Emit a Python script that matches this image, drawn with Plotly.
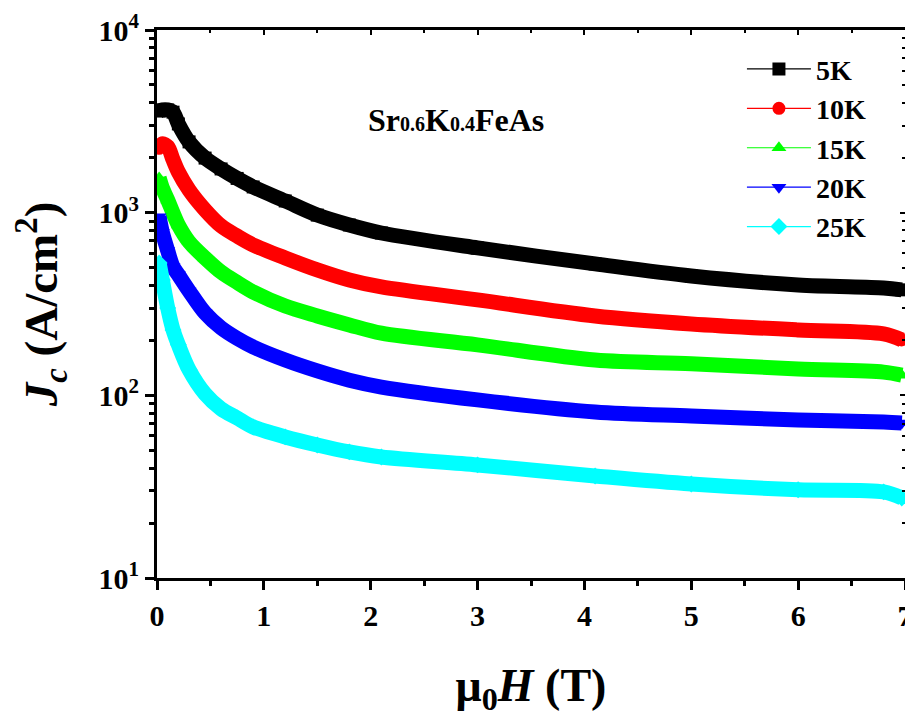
import plotly.graph_objects as go

# ---- data (mu0H in tesla, Jc in A/cm^2) ----
field = [0.02, 0.05, 0.1, 0.15, 0.2, 0.3, 0.45, 0.6, 0.75, 0.9, 1.2, 1.5, 1.8, 2.1, 3.0, 4.1, 5.0, 6.0, 6.8, 6.97]

jc_5K = [3600, 3650, 3650, 3550, 3060, 2440, 1990, 1735, 1540, 1383, 1159, 970, 856, 774, 641, 524, 450, 402, 387, 378]
jc_10K = [2250, 2380, 2300, 1950, 1670, 1331, 1035, 846, 745, 666, 565, 486, 428, 392, 333, 272, 246, 228, 217, 201]
jc_15K = [1550, 1365, 1174, 996, 856, 692, 565, 473, 415, 368, 308, 272, 243, 219, 189, 156, 149, 139.5, 134, 129]
jc_20K = [950, 780, 620, 505, 457, 373, 282, 234, 205, 184, 156, 136, 121, 111, 94.4, 81.1, 77.1, 73.3, 71.5, 70.6]
jc_25K = [530, 428, 301, 228, 189, 138, 101.8, 84.3, 75.2, 67.1, 59.2, 53.5, 49, 46, 41.6, 36.2, 32.7, 30.4, 29.6, 27.4]

series_names = ["5K", "10K", "15K", "20K", "25K"]
series_values = [jc_5K, jc_10K, jc_15K, jc_20K, jc_25K]
series_colors = ["#000000", "#ff0000", "#00ff00", "#0000ff", "#00ffff"]
series_symbols = ["square", "circle", "triangle-up", "triangle-down", "diamond"]

x_ticks = [0, 1, 2, 3, 4, 5, 6, 7]
y_ticks = [10, 100, 1000, 10000]
y_ticktext = ["10<sup>1</sup>", "10<sup>2</sup>", "10<sup>3</sup>", "10<sup>4</sup>"]
y_minor = [m * 10 ** k for k in range(1, 4) for m in range(2, 10)]
x_minor = [v + 0.5 for v in range(7)]

FONT = "Liberation Serif"

fig = go.Figure()

# thick data bands
for name, vals, col, sym in zip(series_names, series_values, series_colors, series_symbols):
    fig.add_trace(go.Scatter(
        x=field, y=vals, mode="lines+markers", name=name, showlegend=False,
        line=dict(color=col, width=15, shape="spline", smoothing=0.9),
        marker=dict(color=col, symbol=sym, size=13),
    ))

# legend entries
for name, col, sym in zip(series_names, series_colors, series_symbols):
    fig.add_trace(go.Scatter(
        x=[None], y=[None], mode="lines+markers", name=name,
        line=dict(color=col, width=1.2),
        marker=dict(color=col, symbol=sym, size=13),
    ))

# dummy trace for mirrored (inside-tick) axes
fig.add_trace(go.Scatter(x=[None], y=[None], xaxis="x2", yaxis="y2",
                         showlegend=False, hoverinfo="skip"))

axis_common = dict(showgrid=False, zeroline=False, linecolor="black", linewidth=3,
                   tickcolor="black", tickwidth=2.5, automargin=False)

fig.update_layout(
    width=905, height=717,
    paper_bgcolor="white", plot_bgcolor="white",
    margin=dict(l=149, r=8, t=22, b=147),
    font=dict(family=FONT, color="black", size=30, weight="bold"),
    xaxis=dict(
        **axis_common, range=[0, 7], tickmode="array", tickvals=x_ticks,
        ticks="outside", ticklen=9, mirror=True,
        minor=dict(tickmode="array", tickvals=x_minor, ticks="outside", ticklen=5,
                   tickcolor="black", tickwidth=2.5),
        tickfont=dict(size=30, family=FONT, weight="bold"),
        title=dict(text="μ<sub>0</sub><i>H</i> (T)", standoff=38,
                   font=dict(size=46, family=FONT, weight="bold")),
    ),
    yaxis=dict(
        **axis_common, type="log", range=[1, 4], tickmode="array",
        tickvals=y_ticks, ticktext=y_ticktext, ticks="outside", ticklen=9, mirror=True,
        minor=dict(tickmode="array", tickvals=y_minor, ticks="outside", ticklen=5,
                   tickcolor="black", tickwidth=2.5),
        tickfont=dict(size=30, family=FONT, weight="bold"),
        title=dict(text="<i>J<sub>c</sub></i> (A/cm<sup>2</sup>)", standoff=32,
                   font=dict(size=47, family=FONT, weight="bold")),
    ),
    xaxis2=dict(
        overlaying="x", side="top", range=[0, 7], showgrid=False, zeroline=False,
        showline=False, tickmode="array", tickvals=x_ticks, ticks="inside", ticklen=5,
        tickcolor="black", tickwidth=2, showticklabels=False, automargin=False,
        minor=dict(tickmode="array", tickvals=x_minor, ticks="inside", ticklen=3,
                   tickcolor="black", tickwidth=2),
    ),
    yaxis2=dict(
        overlaying="y", side="right", type="log", range=[1, 4], showgrid=False,
        zeroline=False, showline=False, tickmode="array", tickvals=y_ticks,
        ticks="inside", ticklen=5, tickcolor="black", tickwidth=2, showticklabels=False,
        automargin=False,
        minor=dict(tickmode="array", tickvals=y_minor, ticks="inside", ticklen=3,
                   tickcolor="black", tickwidth=2),
    ),
    legend=dict(
        x=0.782, y=0.974, xanchor="left", yanchor="top",
        bgcolor="rgba(0,0,0,0)", borderwidth=0,
        font=dict(size=28, family=FONT, weight="bold"),
        itemwidth=64, tracegroupgap=0,
    ),
    annotations=[dict(
        x=0.4, y=0.872, xref="paper", yref="paper", showarrow=False,
        text="Sr<span style='font-size:20px'>0.6</span>K<span style='font-size:20px'>0.4</span>FeAs",
        font=dict(size=32, family=FONT, weight="bold"),
    )],
    showlegend=True,
)

fig.write_html("out.html")
